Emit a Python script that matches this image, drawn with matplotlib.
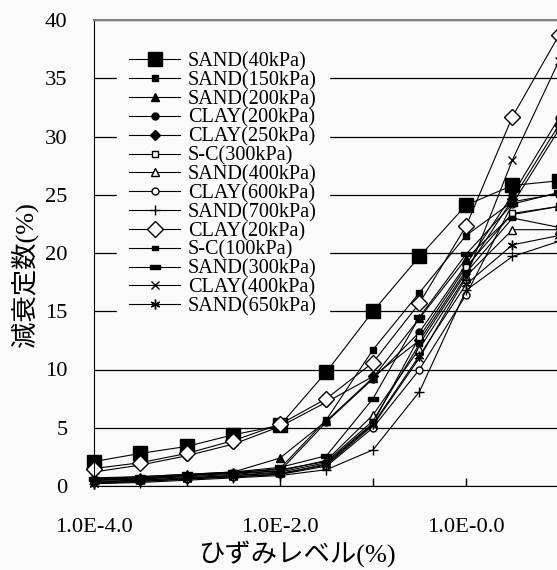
import matplotlib
matplotlib.use("Agg")
import matplotlib.pyplot as plt
import numpy as np

# strain levels (%), half-decade steps
strain = [1e-4, 3.16e-4, 1e-3, 3.16e-3, 1e-2, 3.16e-2, 1e-1, 3.16e-1, 1.0, 3.16, 10.0]

sand_40 = [2.1, 2.8, 3.4, 4.4, 5.2, 9.8, 15.0, 19.7, 24.1, 25.8, 26.2]
sand_150 = [0.5, 0.6, 0.9, 1.1, 1.5, 5.7, 11.7, 16.6, 21.5, 24.4, 25.1]
sand_200 = [0.7, 0.8, 1.0, 1.2, 2.4, 5.6, 9.3, 14.4, 19.5, 23.3, 24.0]
clay_200 = [0.6, 0.7, 0.9, 1.1, 1.3, 5.5, 9.2, 13.2, 19.0, 25.0, 31.6]
clay_250 = [1.2, 1.8, 2.6, 3.6, 5.1, 7.2, 9.4, 12.5, 18.5, 24.6, 31.0]
sc_300 = [0.4, 0.5, 0.7, 0.9, 1.2, 2.0, 5.4, 12.8, 18.8, 23.4, 24.0]
sand_400 = [0.5, 0.6, 0.8, 1.0, 1.3, 2.2, 6.1, 11.8, 18.0, 22.0, 22.0]
clay_600 = [0.3, 0.4, 0.6, 0.8, 1.0, 1.7, 5.0, 10.0, 16.4, 24.2, 30.6]
sand_700 = [0.2, 0.3, 0.5, 0.7, 0.9, 1.4, 3.1, 8.1, 16.8, 19.7, 21.0]
clay_20 = [1.5, 2.0, 2.8, 3.9, 5.3, 7.5, 10.6, 15.7, 22.3, 31.7, 38.7]
sc_100 = [0.5, 0.7, 0.9, 1.2, 1.4, 2.1, 5.6, 12.2, 18.3, 23.0, 22.2]
sand_300 = [0.6, 0.8, 1.0, 1.2, 1.6, 2.6, 7.5, 14.5, 19.9, 24.2, 25.2]
clay_400 = [0.3, 0.5, 0.7, 0.9, 1.1, 1.8, 5.2, 11.0, 17.9, 28.0, 36.5]
sand_650 = [0.2, 0.4, 0.6, 0.8, 1.0, 1.9, 5.3, 11.2, 17.3, 20.7, 21.5]

labels = ["SAND(40kPa)", "SAND(150kPa)", "SAND(200kPa)", "CLAY(200kPa)",
          "CLAY(250kPa)", "S-C(300kPa)", "SAND(400kPa)", "CLAY(600kPa)",
          "SAND(700kPa)", "CLAY(20kPa)", "S-C(100kPa)", "SAND(300kPa)",
          "CLAY(400kPa)", "SAND(650kPa)"]
series = [sand_40, sand_150, sand_200, clay_200, clay_250, sc_300, sand_400,
          clay_600, sand_700, clay_20, sc_100, sand_300, clay_400, sand_650]

small_bar = [(-1, -0.5), (1, -0.5), (1, 0.5), (-1, 0.5), (-1, -0.5)]
wide_bar = [(-1, -0.4), (1, -0.4), (1, 0.4), (-1, 0.4), (-1, -0.4)]
# (marker, size, filled)
styles = [("s", 10, True), ("s", 5, True), ("^", 6, True), ("o", 5, True),
          ("D", 5, True), ("s", 5, False), ("^", 6, False), ("o", 5, False),
          ("+", 7, True), ("D", 8, False), (small_bar, 5, True),
          (wide_bar, 7, True), ("x", 6, True), ((6, 2, 0), 7, True)]

serif = ["Liberation Serif", "DejaVu Serif"]
jp = ["Liberation Serif", "Noto Sans CJK JP"]
bg = "#fafafa"

fig = plt.figure(figsize=(5.57, 5.70), dpi=100, facecolor=bg)
ax = fig.add_axes([94 / 557, 84 / 570, 465 / 557, 466 / 570], facecolor=bg)

for vals, lab, (m, ms, filled) in zip(series, labels, styles):
    ax.plot(strain, vals, color="black", lw=0.8, marker=m, markersize=ms,
            markerfacecolor="black" if filled else bg, markeredgecolor="black",
            markeredgewidth=1.0, label=lab, clip_on=False)

ax.set_xscale("log")
ax.set_xlim(1e-4, 10)
ax.set_ylim(0, 40)
ax.set_yticks(np.arange(0, 41, 5))
ax.set_xticks([1e-4, 1e-3, 1e-2, 1e-1, 1e0, 1e1])
ax.set_xticklabels(["1.0E-4.0", "", "1.0E-2.0", "", "1.0E-0.0", ""])
ax.xaxis.set_minor_locator(matplotlib.ticker.NullLocator())
ax.tick_params(axis="x", direction="in", length=6, width=1, pad=23)
ax.tick_params(axis="y", length=0, pad=19)
for t in ax.get_xticklabels() + ax.get_yticklabels():
    t.set_fontfamily(serif)
    t.set_fontsize(16.2)

ax.grid(axis="y", color="black", lw=0.9)
ax.set_axisbelow(True)
ax.spines["top"].set_color("#808080")
ax.spines["top"].set_linewidth(1.5)
ax.spines["right"].set_visible(False)

leg = ax.legend(loc="upper left", bbox_to_anchor=(117 / 557, 1 - 40 / 570),
                bbox_transform=fig.transFigure, prop={"family": serif, "size": 14.6},
                frameon=True, fancybox=False, facecolor=bg, edgecolor=bg,
                framealpha=1, labelspacing=-0.02, handlelength=2.5,
                handletextpad=0.4, borderpad=0.6, borderaxespad=0)
leg.set_zorder(5)

fig.text(24 / 557, 1 - 275 / 570, "減衰定数(%)", rotation=90, ha="center",
         va="center", family=jp, fontsize=19)
fig.text(297 / 557, 1 - 554 / 570, "ひずみレベル(%)", ha="center", va="center",
         family=jp, fontsize=19)

fig.savefig("out.png", dpi=100, facecolor=bg)
